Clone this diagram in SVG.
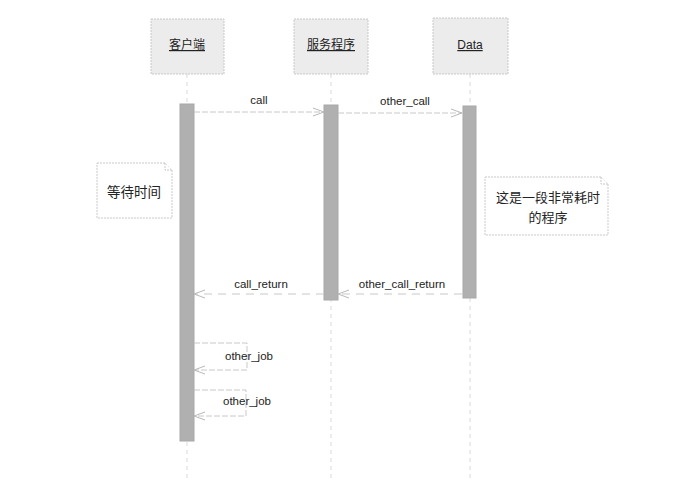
<svg xmlns="http://www.w3.org/2000/svg" width="681" height="504" viewBox="0 0 681 504">
<style>
.head{fill:#ececec;stroke:#c8c8c8;stroke-width:1;stroke-dasharray:2 1}
.ht{font-family:"Liberation Sans","Noto Sans CJK SC",sans-serif;font-size:12px;fill:#222;text-anchor:middle;text-decoration:underline}
.life{stroke:#dadada;stroke-width:1;stroke-dasharray:4 4;fill:none}
.act{fill:#b0b0b0;stroke:#a8a8a8;stroke-width:1}
.msg{stroke:#c8c8c8;stroke-width:1;fill:none;stroke-dasharray:6 2}
.ret{stroke:#c8c8c8;stroke-width:1;fill:none;stroke-dasharray:8 6}
.lbl{font-family:"Liberation Sans","Noto Sans CJK SC",sans-serif;font-size:11.5px;fill:#222;text-anchor:middle}
.note{fill:#ffffff;stroke:#c8c8c8;stroke-width:1;stroke-dasharray:2 1}
.nt{font-family:"Noto Sans CJK SC",sans-serif;font-size:13.5px;fill:#222;text-anchor:middle}
.nt2{font-family:"Noto Sans CJK SC",sans-serif;font-size:13px;fill:#222;text-anchor:middle}
</style>
<defs>
<marker id="open" markerWidth="12" markerHeight="10" refX="11" refY="5" orient="auto" markerUnits="userSpaceOnUse">
<path d="M0,1 L11,5 L0,9" fill="none" stroke="#b8b8b8" stroke-width="1"/>
</marker>
</defs>
<rect width="681" height="504" fill="#ffffff"/>
<g id="lifelines">
<line class="life" x1="187" y1="74" x2="187" y2="480"/>
<line class="life" x1="331" y1="74" x2="331" y2="480"/>
<line class="life" x1="470" y1="74" x2="470" y2="480"/>
</g>
<g id="client">
<rect class="head" x="151" y="19" width="73" height="55"/>
<text class="ht" x="187" y="49">客户端</text>
<rect class="act" x="180" y="104" width="14" height="337"/>
</g>
<g id="server">
<rect class="head" x="294" y="19" width="74" height="55"/>
<text class="ht" x="331" y="49">服务程序</text>
<rect class="act" x="324" y="105" width="14" height="195"/>
</g>
<g id="data">
<rect class="head" x="433" y="18" width="75" height="56"/>
<text class="ht" x="470" y="49">Data</text>
<rect class="act" x="463" y="106" width="13" height="192"/>
</g>
<g id="note-wait">
<path class="note" d="M97,163 L165,163 L172,170 L172,218 L97,218 Z"/>
<path class="note" d="M165,163 L165,170 L172,170"/>
<text class="nt" x="134" y="197">等待时间</text>
</g>
<g id="note-long">
<path class="note" d="M485,177 L601,177 L608,184 L608,235 L485,235 Z"/>
<path class="note" d="M601,177 L601,184 L608,184"/>
<text class="nt2" x="548" y="202">这是一段非常耗时</text>
<text class="nt2" x="548" y="222">的程序</text>
</g>
<g id="connectors">
<line class="msg" x1="194" y1="112" x2="324" y2="112" marker-end="url(#open)"/>
<line class="msg" x1="338" y1="113" x2="462" y2="113" marker-end="url(#open)"/>
<line class="ret" x1="324" y1="294" x2="194" y2="294" marker-end="url(#open)"/>
<line class="ret" x1="462" y1="294" x2="338" y2="294" marker-end="url(#open)"/>
<path class="msg" d="M194,343 L247,343 L247,370 L194,370" marker-end="url(#open)"/>
<path class="msg" d="M194,390 L246,390 L246,416 L194,416" marker-end="url(#open)"/>
</g>
<g id="labels">
<text class="lbl" x="259" y="104">call</text>
<text class="lbl" x="405" y="105">other_call</text>
<text class="lbl" x="261" y="288">call_return</text>
<text class="lbl" x="402" y="288">other_call_return</text>
<text class="lbl" x="249" y="360">other_job</text>
<text class="lbl" x="247" y="405">other_job</text>
</g>
</svg>
